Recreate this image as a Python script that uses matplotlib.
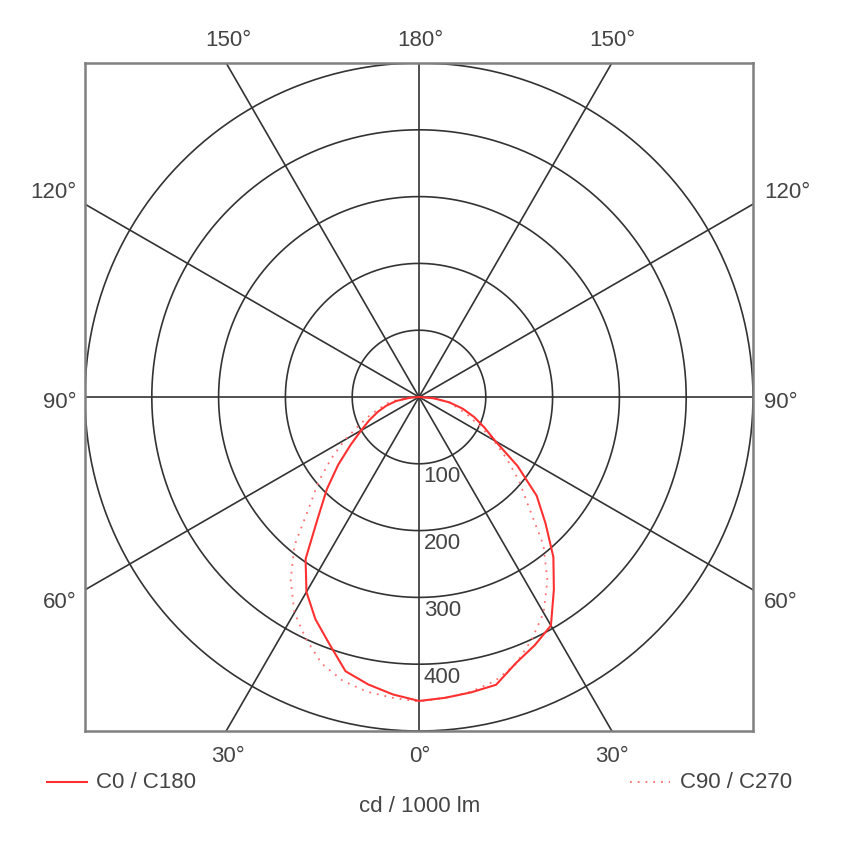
import numpy as np
import matplotlib
matplotlib.use("Agg")
import matplotlib.pyplot as plt

# === DATA (cd / 1000 lm) ===
gamma = [0, 5, 10, 15, 20, 25, 30, 35, 40, 45, 50, 55, 60, 65, 70, 75, 80, 85, 90]
c0 = [455, 452, 449, 446, 424, 410, 395, 352, 313, 268, 230, 180, 132, 108, 88, 68, 46, 22, 0]
c180 = [455, 447, 437, 425, 393, 367, 337, 296, 235, 195, 158, 125, 100, 82, 66, 51, 35, 14, 0]
c90_270 = [456, 452, 448, 440, 425, 400, 373, 335, 290, 232, 196, 160, 128, 98, 77, 58, 45, 25, 0]

rings = [100, 200, 300, 400, 500]
ring_labels = ["100", "200", "300", "400"]
ray_angles = [0, 30, 60, 90, 120, 150]

W, H = 850, 843
fig = plt.figure(figsize=(W / 100, H / 100), dpi=100)
ax = fig.add_axes([85 / W, (H - 731) / H, 668 / W, 668 / H])
ax.set_xlim(-500, 500)
ax.set_ylim(-500, 500)
ax.set_aspect("auto")
ax.set_xticks([])
ax.set_yticks([])
for s in ax.spines.values():
    s.set_color("#808080")
    s.set_linewidth(1.8)

grid_col = "#333333"
t = np.linspace(0, 2 * np.pi, 400)
for r in rings:
    ax.plot(r * np.cos(t), r * np.sin(t), color=grid_col, lw=1.2, zorder=1)
for a in ray_angles:
    rad = np.radians(a)
    ax.plot([-800 * np.sin(rad), 800 * np.sin(rad)], [-800 * np.cos(rad), 800 * np.cos(rad)],
            color=grid_col, lw=1.2, zorder=1)

# === CURVES ===
g = np.radians(gamma)
c0 = np.array(c0)
c180 = np.array(c180)
c90 = np.array(c90_270)
dots = (0, (1, 3.3))

# dotted: C90 / C270 (symmetric)
xd = np.concatenate([-(c90 * np.sin(g))[::-1], (c90 * np.sin(g))[1:]])
yd = np.concatenate([-(c90 * np.cos(g))[::-1], -(c90 * np.cos(g))[1:]])
ax.plot(xd, yd, color="#ff7070", lw=1.3, ls=dots, zorder=2)

# solid: C0 (right) / C180 (left)
xs = np.concatenate([-(c180 * np.sin(g))[::-1], (c0 * np.sin(g))[1:]])
ys = np.concatenate([-(c180 * np.cos(g))[::-1], -(c0 * np.cos(g))[1:]])
ax.plot(xs, ys, color="#ff3030", lw=1.5, zorder=3)

FS = 16
for r, lab in zip(rings, ring_labels):
    ax.text(7, -r - 4, lab, ha="left", va="top", fontsize=FS, color="#444444",
            family="Liberation Sans", zorder=4)

# === ANGLE LABELS ===
txt = dict(fontsize=FS, color="#444444", family="Liberation Sans")
def ftext(x, y, s, ha="center"):
    fig.text(x / W, 1 - y / H, s, ha=ha, va="center", **txt)

ftext(420, 40, "180°")
ftext(228, 40, "150°")
ftext(612, 40, "150°")
ftext(77, 192, "120°", ha="right")
ftext(764, 192, "120°", ha="left")
ftext(77, 403, "90°", ha="right")
ftext(764, 403, "90°", ha="left")
ftext(77, 602, "60°", ha="right")
ftext(764, 602, "60°", ha="left")
ftext(228, 757, "30°")
ftext(420, 757, "0°")
ftext(612, 757, "30°")

# === LEGEND ===
fig.add_artist(plt.Line2D([47 / W, 87 / W], [1 - 782 / H, 1 - 782 / H], color="#ff3030", lw=1.5))
ftext(96, 782, "C0 / C180", ha="left")
fig.add_artist(plt.Line2D([630 / W, 670 / W], [1 - 782 / H, 1 - 782 / H], color="#ff7070",
                          lw=1.3, ls=dots))
ftext(680, 782, "C90 / C270", ha="left")
ftext(420, 807, "cd / 1000 lm")

fig.savefig("out.png", dpi=100)
